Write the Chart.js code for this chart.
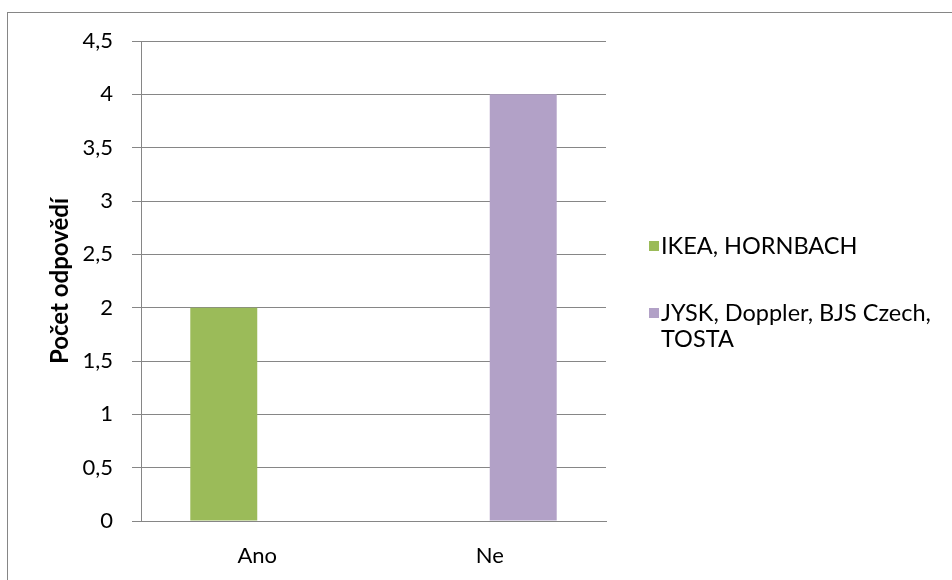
<!DOCTYPE html>
<html>
<head>
<meta charset="utf-8">
<script src="https://cdn.jsdelivr.net/npm/chart.js@4.4.1/dist/chart.umd.min.js"></script>
<style>
  html, body { margin: 0; padding: 0; background: #fff; overflow: hidden; }
  #obal { position: relative; width: 952px; height: 580px; }
</style>
</head>
<body>
<div id="obal"><canvas id="graf"></canvas></div>
<script>
/* Data grafu */
var kategorie = ['Ano', 'Ne'];
var ikeaHornbach = [2, null];
var jyskOstatni = [null, 4];
var nazvyRad = ['IKEA, HORNBACH', 'JYSK, Doppler, BJS Czech, TOSTA'];
var popiskyY = ['0', '0,5', '1', '1,5', '2', '2,5', '3', '3,5', '4', '4,5'];
var nazevOsyY = 'Počet odpovědí';

var sediva = '#868686';
var pismo = 'Lato, "DejaVu Sans", sans-serif';
var velikost = 22;

/* Rámeček kolem grafu a legenda vpravo */
var ramecekALegenda = {
  id: 'ramecekALegenda',
  beforeDraw: function(chart) {
    var ctx = chart.ctx;
    ctx.save();
    ctx.strokeStyle = sediva;
    ctx.lineWidth = 1;
    ctx.strokeRect(7.5, 12.5, 1000, 1000);
    ctx.restore();
  },
  afterDraw: function(chart) {
    var ctx = chart.ctx;
    var x = chart.chartArea.right + 43;
    var stredy = [246, 313];
    ctx.save();
    ctx.font = '23.5px ' + pismo;
    ctx.textBaseline = 'middle';
    chart.data.datasets.forEach(function(ds, i) {
      var y = stredy[i];
      ctx.fillStyle = ds.backgroundColor;
      ctx.fillRect(x, y - 5, 10, 10);
      ctx.fillStyle = '#000';
      // zalomení textu
      var slova = ds.label.split(' ');
      var radek = '';
      var radky = [];
      slova.forEach(function(s) {
        var zkus = radek ? radek + ' ' + s : s;
        if (ctx.measureText(zkus).width > 288 && radek) {
          radky.push(radek);
          radek = s;
        } else {
          radek = zkus;
        }
      });
      radky.push(radek);
      radky.forEach(function(r, j) {
        ctx.fillText(r, x + 12, y + j * 26);
      });
    });
    ctx.restore();
  }
};

var graf = new Chart(document.getElementById('graf').getContext('2d'), {
  type: 'bar',
  data: {
    labels: kategorie,
    datasets: [
      { label: nazvyRad[0], data: ikeaHornbach, backgroundColor: '#9BBB59' },
      { label: nazvyRad[1], data: jyskOstatni, backgroundColor: '#B2A1C7' }
    ]
  },
  options: {
    responsive: true,
    maintainAspectRatio: false,
    animation: false,
    layout: { padding: { left: 46, top: 41, right: 346, bottom: 0 } },
    datasets: { bar: { barPercentage: 1, categoryPercentage: 0.576 } },
    plugins: { legend: { display: false }, tooltip: { enabled: false } },
    scales: {
      x: {
        afterFit: function(s) { s.height = 59; },
        grid: { display: false, drawTicks: false },
        border: { color: sediva, width: 1 },
        ticks: { color: '#000', padding: 22, font: { family: pismo, size: velikost } }
      },
      y: {
        min: 0,
        max: 4.5,
        afterFit: function(s) { s.width = 95; },
        grid: { color: sediva, lineWidth: 1, tickLength: 9 },
        border: { color: sediva, width: 1 },
        ticks: {
          stepSize: 0.5,
          padding: 19,
          color: '#000',
          font: { family: pismo, size: velikost },
          callback: function(v, i) { return popiskyY[i]; }
        },
        title: {
          display: true,
          text: nazevOsyY,
          color: '#000',
          padding: 0,
          font: { family: pismo, size: 24, weight: 'bold' }
        }
      }
    }
  },
  plugins: [ramecekALegenda]
});
</script>
</body>
</html>
